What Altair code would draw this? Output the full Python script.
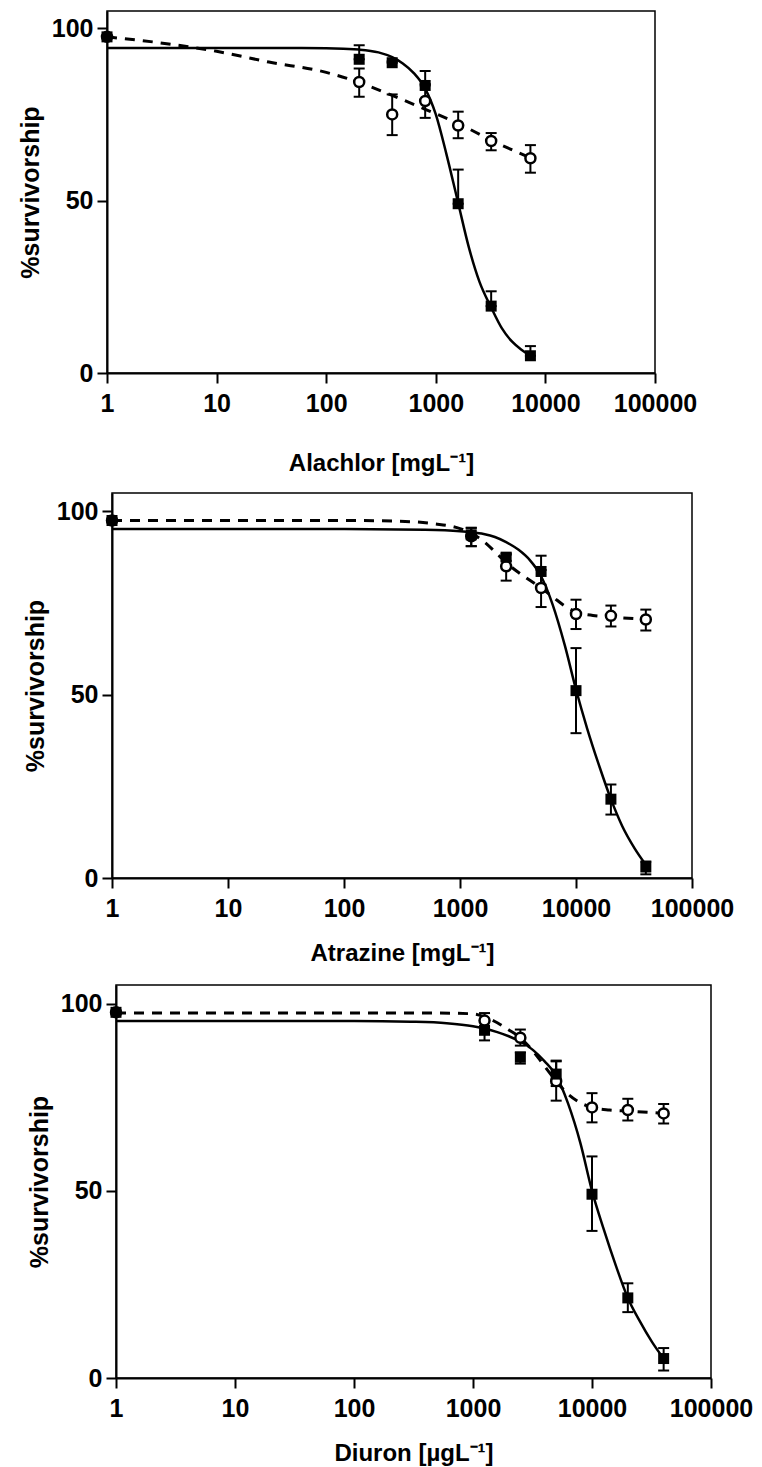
import altair as alt
import pandas as pd

FONT = "Liberation Sans"

# ---------------- Panel 1: Alachlor ----------------
ala_conc = [1, 200, 400, 800, 1600, 3200, 7300]
ala_sq = [97.5, 91.0, 90.0, 83.4, 49.1, 19.4, 5.0]
ala_sq_lo = [97.5, 91.0, 90.0, 83.4, 49.1, 19.4, 5.0]
ala_sq_hi = [97.5, 95.1, 90.4, 87.6, 59.0, 23.7, 7.8]
ala_ci = [97.5, 84.4, 75.0, 78.9, 71.8, 67.3, 62.3]
ala_ci_lo = [97.5, 80.1, 69.0, 74.0, 68.1, 64.6, 58.1]
ala_ci_hi = [97.5, 88.3, 80.8, 83.8, 75.8, 69.6, 66.1]
ala_fit_solid_x = [1, 10, 100, 200, 300, 400, 500, 630, 800, 1000, 1250, 1600, 2000, 2500, 3200, 4000, 5000, 6000, 7300]
ala_fit_solid_y = [94.3, 94.3, 94.2, 93.8, 93.0, 91.6, 89.8, 87.0, 82.5, 75.0, 63.5, 49.3, 36.5, 26.5, 19.0, 13.0, 9.0, 6.8, 5.0]
ala_fit_dash_x = [1, 3, 10, 30, 100, 200, 400, 800, 1600, 3200, 7300]
ala_fit_dash_y = [97.5, 95.8, 93.3, 90.2, 87.2, 84.3, 80.5, 76.5, 72.4, 67.5, 62.4]

# ---------------- Panel 2: Atrazine ----------------
atr_conc = [1, 1250, 2500, 5000, 10000, 20000, 40000]
atr_sq = [97.5, 93.6, 87.5, 83.6, 51.1, 21.5, 3.0]
atr_sq_lo = [97.5, 90.5, 86.5, 80.0, 39.5, 17.3, 1.0]
atr_sq_hi = [97.5, 95.5, 88.5, 87.9, 62.7, 25.5, 4.5]
atr_ci = [97.5, 93.2, 85.0, 79.1, 72.0, 71.5, 70.5]
atr_ci_lo = [97.5, 90.5, 81.1, 73.9, 67.9, 68.6, 67.5]
atr_ci_hi = [97.5, 95.5, 88.2, 84.0, 75.9, 74.3, 73.2]
atr_fit_solid_x = [1, 10, 100, 500, 1000, 1250, 1600, 2000, 2500, 3200, 4000, 5000, 6300, 8000, 10000, 12500, 16000, 20000, 25000, 32000, 40000]
atr_fit_solid_y = [95.2, 95.2, 95.2, 95.0, 94.6, 94.3, 93.8, 93.0, 91.6, 89.5, 86.7, 82.3, 74.5, 63.5, 51.4, 40.7, 30.2, 21.5, 14.2, 8.1, 3.6]
atr_fit_dash_x = [1, 10, 100, 300, 600, 1000, 1250, 1600, 2000, 2500, 3200, 4000, 5000, 6300, 8000, 10000, 14000, 20000, 40000]
atr_fit_dash_y = [97.5, 97.5, 97.5, 97.3, 96.6, 95.3, 94.0, 91.8, 89.0, 86.0, 83.3, 81.2, 79.1, 76.7, 74.2, 72.6, 71.6, 71.2, 70.5]

# ---------------- Panel 3: Diuron ----------------
diu_conc = [1, 1250, 2500, 5000, 10000, 20000, 40000]
diu_sq = [97.7, 92.9, 85.7, 81.2, 49.1, 21.4, 5.2]
diu_sq_lo = [97.7, 90.2, 84.0, 78.0, 39.3, 17.6, 2.0]
diu_sq_hi = [97.7, 96.0, 87.0, 84.8, 59.2, 25.3, 8.0]
diu_ci = [97.7, 95.5, 90.9, 79.3, 72.3, 71.6, 70.7]
diu_ci_lo = [97.7, 93.8, 88.8, 74.1, 68.3, 68.8, 68.0]
diu_ci_hi = [97.7, 97.5, 93.1, 84.6, 76.1, 74.6, 73.2]
diu_fit_solid_x = [1, 10, 100, 300, 600, 1000, 1250, 1600, 2000, 2500, 3200, 4000, 5000, 6300, 8000, 10000, 12500, 16000, 20000, 25000, 32000, 40000]
diu_fit_solid_y = [95.4, 95.4, 95.4, 95.2, 94.8, 94.0, 93.4, 92.4, 91.3, 89.9, 87.6, 84.6, 80.8, 73.3, 62.7, 50.0, 39.9, 29.7, 21.4, 15.4, 9.6, 5.2]
diu_fit_dash_x = [1, 10, 100, 500, 1000, 1250, 1600, 2000, 2500, 3200, 4000, 5000, 6300, 8000, 10000, 14000, 20000, 40000]
diu_fit_dash_y = [97.5, 97.5, 97.5, 97.5, 97.3, 96.5, 94.9, 93.0, 90.9, 87.3, 83.3, 79.3, 75.8, 73.5, 72.3, 71.6, 71.3, 70.7]

x_ticks = [1, 10, 100, 1000, 10000, 100000]
y_ticks = [0, 50, 100]


def make_panel(conc, sq, sq_lo, sq_hi, ci, ci_lo, ci_hi, fsx, fsy, fdx, fdy,
               title, w, h, title_pad):
    sq_df = pd.DataFrame({"x": conc, "y": sq, "lo": sq_lo, "hi": sq_hi})
    ci_df = pd.DataFrame({"x": conc, "y": ci, "lo": ci_lo, "hi": ci_hi})
    solid_df = pd.DataFrame({"x": fsx, "y": fsy})
    dash_df = pd.DataFrame({"x": fdx, "y": fdy})

    xs = alt.Scale(type="log", domain=[1, 100000], nice=False)
    ys = alt.Scale(domain=[0, 105], nice=False, zero=True)
    xax = alt.Axis(values=x_ticks, format="d", title=title, grid=False,
                   labelFont=FONT, labelFontSize=25, labelFontWeight="bold",
                   labelColor="black", labelPadding=8, labelFlush=False,
                   labelOverlap=False, tickSize=10, tickWidth=2,
                   tickColor="black", domainColor="black", domainWidth=2,
                   titleFont=FONT, titleFontSize=24, titleFontWeight="bold",
                   titleColor="black", titlePadding=title_pad)
    yax = alt.Axis(values=y_ticks, title="%survivorship", grid=False,
                   labelFont=FONT, labelFontSize=25, labelFontWeight="bold",
                   labelColor="black", labelPadding=4, tickSize=10,
                   tickWidth=2, tickColor="black", domainColor="black",
                   domainWidth=2, titleFont=FONT, titleFontSize=25,
                   titleFontWeight="bold", titleColor="black", titlePadding=8)
    X = alt.X("x:Q", scale=xs, axis=xax)

    def Y(f):
        return alt.Y(f + ":Q", scale=ys, axis=yax)

    dashed = alt.Chart(dash_df).mark_line(
        color="black", strokeWidth=3, strokeDash=[10, 8], interpolate="monotone"
    ).encode(x=X, y=Y("y"))
    solid = alt.Chart(solid_df).mark_line(
        color="black", strokeWidth=2.5, interpolate="monotone"
    ).encode(x=X, y=Y("y"))

    def bars(df):
        rule = alt.Chart(df).mark_rule(color="black", strokeWidth=2).encode(
            x=X, y=Y("lo"), y2="hi:Q")
        cap_hi = alt.Chart(df).mark_tick(
            color="black", orient="horizontal", size=11, thickness=2, opacity=1
        ).encode(x=X, y=Y("hi"))
        cap_lo = alt.Chart(df).mark_tick(
            color="black", orient="horizontal", size=11, thickness=2, opacity=1
        ).encode(x=X, y=Y("lo"))
        return [rule, cap_hi, cap_lo]

    circles = alt.Chart(ci_df).mark_point(
        shape="circle", filled=True, fill="white", stroke="black",
        strokeWidth=2.5, size=100, opacity=1
    ).encode(x=X, y=Y("y"))
    squares = alt.Chart(sq_df).mark_point(
        shape="square", filled=True, fill="black", size=121, opacity=1,
        strokeWidth=0
    ).encode(x=X, y=Y("y"))

    layers = [dashed, solid] + bars(ci_df) + bars(sq_df) + [circles, squares]
    return alt.layer(*layers).properties(width=w, height=h)


def spacer(w):
    df = pd.DataFrame({"a": [0]})
    return alt.Chart(df).mark_point(opacity=0, size=1).encode(
        x=alt.value(0), y=alt.value(5)
    ).properties(width=w, height=10, view=alt.ViewBackground(strokeWidth=0))


p1 = make_panel(ala_conc, ala_sq, ala_sq_lo, ala_sq_hi, ala_ci, ala_ci_lo,
                ala_ci_hi, ala_fit_solid_x, ala_fit_solid_y, ala_fit_dash_x,
                ala_fit_dash_y, "Alachlor [mgL⁻¹]", 548, 362, 35)
p2 = make_panel(atr_conc, atr_sq, atr_sq_lo, atr_sq_hi, atr_ci, atr_ci_lo,
                atr_ci_hi, atr_fit_solid_x, atr_fit_solid_y, atr_fit_dash_x,
                atr_fit_dash_y, "Atrazine [mgL⁻¹]", 580, 385, 20)
p3 = make_panel(diu_conc, diu_sq, diu_sq_lo, diu_sq_hi, diu_ci, diu_ci_lo,
                diu_ci_hi, diu_fit_solid_x, diu_fit_solid_y, diu_fit_dash_x,
                diu_fit_dash_y, "Diuron [µgL⁻¹]", 595, 393, 20)

row1 = alt.hconcat(spacer(1), p1, spacing=0)
row2 = alt.hconcat(spacer(6), p2, spacing=0)
row3 = alt.hconcat(spacer(10), p3, spacing=0)

chart = alt.vconcat(
    alt.vconcat(row1, row2, spacing=16),
    row3,
    spacing=18,
).properties(
    padding={"left": 7, "top": 2, "right": 0, "bottom": 2},
    background="white",
).configure_view(
    stroke="black", strokeWidth=1.5
)

chart.save("out.html", embed_options={"renderer": "svg", "actions": False})
